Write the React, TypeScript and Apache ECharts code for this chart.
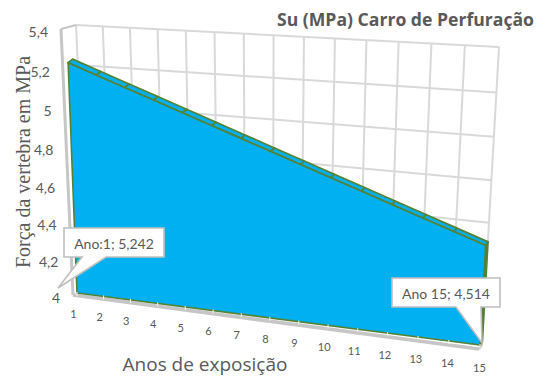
import React, { useEffect, useRef } from "react";
import * as echarts from "echarts";

const W = 548;
const H = 377;

const years = [1, 2, 3, 4, 5, 6, 7, 8, 9, 10, 11, 12, 13, 14, 15];
const strength = [5.242, 5.19, 5.138, 5.086, 5.034, 4.982, 4.93, 4.878, 4.826, 4.774, 4.722, 4.67, 4.618, 4.566, 4.514];
const yTicks = [4, 4.2, 4.4, 4.6, 4.8, 5, 5.2, 5.4];
const yTickLabels = ["4", "4,2", "4,4", "4,6", "4,8", "5", "5,2", "5,4"];

const titleText = "Su (MPa) Carro de Perfuração";
const xName = "Anos de exposição";
const yName = "Força da vertebra em MPa";
const calloutFirst = "Ano:1; 5,242";
const calloutLast = "Ano 15; 4,514";

type Pt = [number, number];

// Projective map taking the unit square onto a quad given as TL, TR, BR, BL.
function makeProjection(q: Pt[]) {
  const [[x0, y0], [x1, y1], [x2, y2], [x3, y3]] = q;
  const dx1 = x1 - x2, dx2 = x3 - x2, sx = x0 - x1 + x2 - x3;
  const dy1 = y1 - y2, dy2 = y3 - y2, sy = y0 - y1 + y2 - y3;
  const d = dx1 * dy2 - dx2 * dy1;
  const g = (sx * dy2 - dx2 * sy) / d;
  const h = (dx1 * sy - sx * dy1) / d;
  const a = x1 - x0 + g * x1, b = x3 - x0 + h * x3, c = x0;
  const e = y1 - y0 + g * y1, f = y3 - y0 + h * y3, k = y0;
  return (u: number, v: number): Pt => {
    const w = g * u + h * v + 1;
    return [(a * u + b * v + c) / w, (e * u + f * v + k) / w];
  };
}

// The planes of the tilted box: back wall, outer front edge, area front and area rear.
const wallPlane = makeProjection([[76, 25], [499, 47], [482, 345], [88, 290]]);
const edgePlane = makeProjection([[61, 29], [497, 54], [479, 349], [73, 295]]);
const facePlane = makeProjection([[66.9, 31.5], [496, 62], [480, 345], [77, 293]]);
const rearPlane = makeProjection([[71.4, 28], [498.5, 58.5], [482.5, 341.5], [81.5, 289.5]]);

const GRID = "#d9d9d9";
const EDGE = "#c6c6c6";
const TEXT = "#595959";
const FILL = "#00b0f0";
const GREEN = "#548235";

const on = (plane: (u: number, v: number) => Pt, api: any, x: number, y: number): Pt => {
  const [px, py] = api.coord([x, y]);
  return plane(px / W, py / H);
};

const line = (a: Pt, b: Pt, stroke: string, lineWidth: number) => ({
  type: "line",
  shape: { x1: a[0], y1: a[1], x2: b[0], y2: b[1] },
  style: { stroke, lineWidth, fill: null },
  silent: true,
});

const poly = (points: Pt[], fill: string, stroke: string | null, lineWidth = 0) => ({
  type: "polygon",
  shape: { points },
  style: { fill, stroke, lineWidth, lineJoin: "round" },
  silent: true,
});

const X0 = years[0];
const X1 = years[years.length - 1];
const Y0 = yTicks[0];
const Y1 = yTicks[yTicks.length - 1];

function renderVerticalGrid(_: any, api: any) {
  const x = api.value(0);
  return line(on(wallPlane, api, x, Y1), on(wallPlane, api, x, Y0), GRID, 2);
}

function renderHorizontalGrid(_: any, api: any) {
  const y = api.value(0);
  return line(on(wallPlane, api, X0, y), on(wallPlane, api, X1, y), GRID, 2);
}

function renderFrame(_: any, api: any) {
  const leftTop = on(edgePlane, api, X0, Y1);
  const leftBottom = on(edgePlane, api, X0, Y0);
  const rightBottom = on(edgePlane, api, X1, Y0);
  const children: any[] = [
    line(leftTop, on(wallPlane, api, X0, Y1), EDGE, 2),
    line(leftTop, leftBottom, EDGE, 3),
    line(leftBottom, rightBottom, EDGE, 3.6),
    line(rightBottom, on(wallPlane, api, X1, Y0), EDGE, 2.4),
  ];
  return { type: "group", children };
}

function renderArea(_: any, api: any) {
  const front = years.map((x, i) => on(facePlane, api, x, strength[i]));
  const rear = years.map((x, i) => on(rearPlane, api, x, strength[i]));
  const floorFront = [on(facePlane, api, X1, Y0), on(facePlane, api, X0, Y0)];
  const floorRear = on(rearPlane, api, X1, Y0);
  const last = years.length - 1;
  const children: any[] = [];
  // end cap on the right of the solid
  children.push(poly([front[last], rear[last], floorRear, floorFront[0]], GREEN, GREEN, 1.4));
  children.push(poly([...front, ...floorFront], FILL, GREEN, 1.6));
  // top surface, one facet per year
  for (let i = 0; i < last; i++) {
    children.push(poly([front[i], front[i + 1], rear[i + 1], rear[i]], FILL, GREEN, 1.7));
  }
  return { type: "group", children };
}

function renderFloorTicks(_: any, api: any) {
  const x = api.value(0);
  const a = on(facePlane, api, x, Y0);
  return line([a[0], a[1] - 1], [a[0], a[1] + 3], "#f4f4f4", 1);
}

function renderYearLabel(_: any, api: any) {
  const x = api.value(0);
  const a = on(edgePlane, api, x, Y0);
  return {
    type: "text",
    silent: true,
    style: {
      text: String(x),
      x: a[0] + 0.5,
      y: a[1] + 18,
      textAlign: "center",
      verticalAlign: "middle",
      fontFamily: "Lato",
      fontSize: 11,
      fill: TEXT,
    },
  };
}

function renderValueLabel(params: any, api: any) {
  const y = api.value(0);
  const a = on(edgePlane, api, X0, y);
  return {
    type: "text",
    silent: true,
    style: {
      text: yTickLabels[params.dataIndex],
      x: a[0] - 13,
      y: a[1] + 2,
      textAlign: "right",
      verticalAlign: "middle",
      fontFamily: "Lato",
      fontSize: 14,
      fill: TEXT,
    },
  };
}

const custom = (name: string, data: number[], renderItem: any, z: number) => ({
  type: "custom",
  name,
  data: data.map((d) => [d]),
  renderItem,
  z,
  silent: true,
  clip: false,
  encode: { x: -1, y: -1 },
});

const callout = (points: Pt[], text: string, cx: number, cy: number) => ({
  type: "group",
  z: 50,
  children: [
    {
      type: "polygon",
      z: 50,
      shape: { points },
      style: { fill: "#ffffff", stroke: "#bfbfbf", lineWidth: 1.6 },
    },
    {
      type: "text",
      z: 51,
      style: {
        text,
        x: cx,
        y: cy,
        textAlign: "center",
        textVerticalAlign: "middle",
        fontFamily: "Lato",
        fontSize: 14,
        fill: TEXT,
      },
    },
  ],
});

export default function App() {
  const ref = useRef<HTMLDivElement>(null);

  useEffect(() => {
    if (!ref.current) return;
    const chart = echarts.init(ref.current, undefined, { renderer: "svg" });
    chart.setOption({
      animation: false,
      backgroundColor: "#ffffff",
      title: {
        text: titleText,
        left: 277,
        top: 10,
        padding: 0,
        textStyle: { fontFamily: "Open Sans", fontWeight: "bold", fontSize: 17.6, color: TEXT },
      },
      grid: { left: 0, right: 0, top: 0, bottom: 0 },
      xAxis: { type: "value", min: X0, max: X1, interval: 1, show: false },
      yAxis: { type: "value", min: Y0, max: Y1, interval: 0.2, show: false },
      graphic: [
        {
          type: "text",
          x: 23,
          y: 162,
          rotation: Math.PI / 2,
          style: {
            text: yName,
            textAlign: "center",
            textVerticalAlign: "middle",
            fontFamily: "Liberation Serif",
            fontSize: 20,
            fill: TEXT,
          },
        },
        {
          type: "text",
          x: 205,
          y: 364,
          style: {
            text: xName,
            textAlign: "center",
            textVerticalAlign: "middle",
            fontFamily: "Open Sans",
            fontSize: 19,
            fill: TEXT,
          },
        },
        callout(
          [[64, 228], [164, 228], [164, 257], [106, 257], [58, 288], [82, 257], [64, 257]],
          calloutFirst,
          114,
          243
        ),
        callout(
          [[392, 278], [500, 278], [500, 307], [481, 307], [482, 343], [456, 307], [392, 307]],
          calloutLast,
          446,
          293
        ),
      ],
      series: [
        custom("grade vertical", years, renderVerticalGrid, 1),
        custom("grade horizontal", yTicks, renderHorizontalGrid, 1),
        custom("moldura", [0], renderFrame, 2),
        custom("Su (MPa)", [0], renderArea, 4),
        custom("marcas", years, renderFloorTicks, 5),
        custom("anos", years, renderYearLabel, 5),
        custom("valores", yTicks, renderValueLabel, 5),
      ],
    });
    return () => chart.dispose();
  }, []);

  return <div ref={ref} style={{ position: "absolute", left: 0, top: 0, width: W, height: H }} />;
}
